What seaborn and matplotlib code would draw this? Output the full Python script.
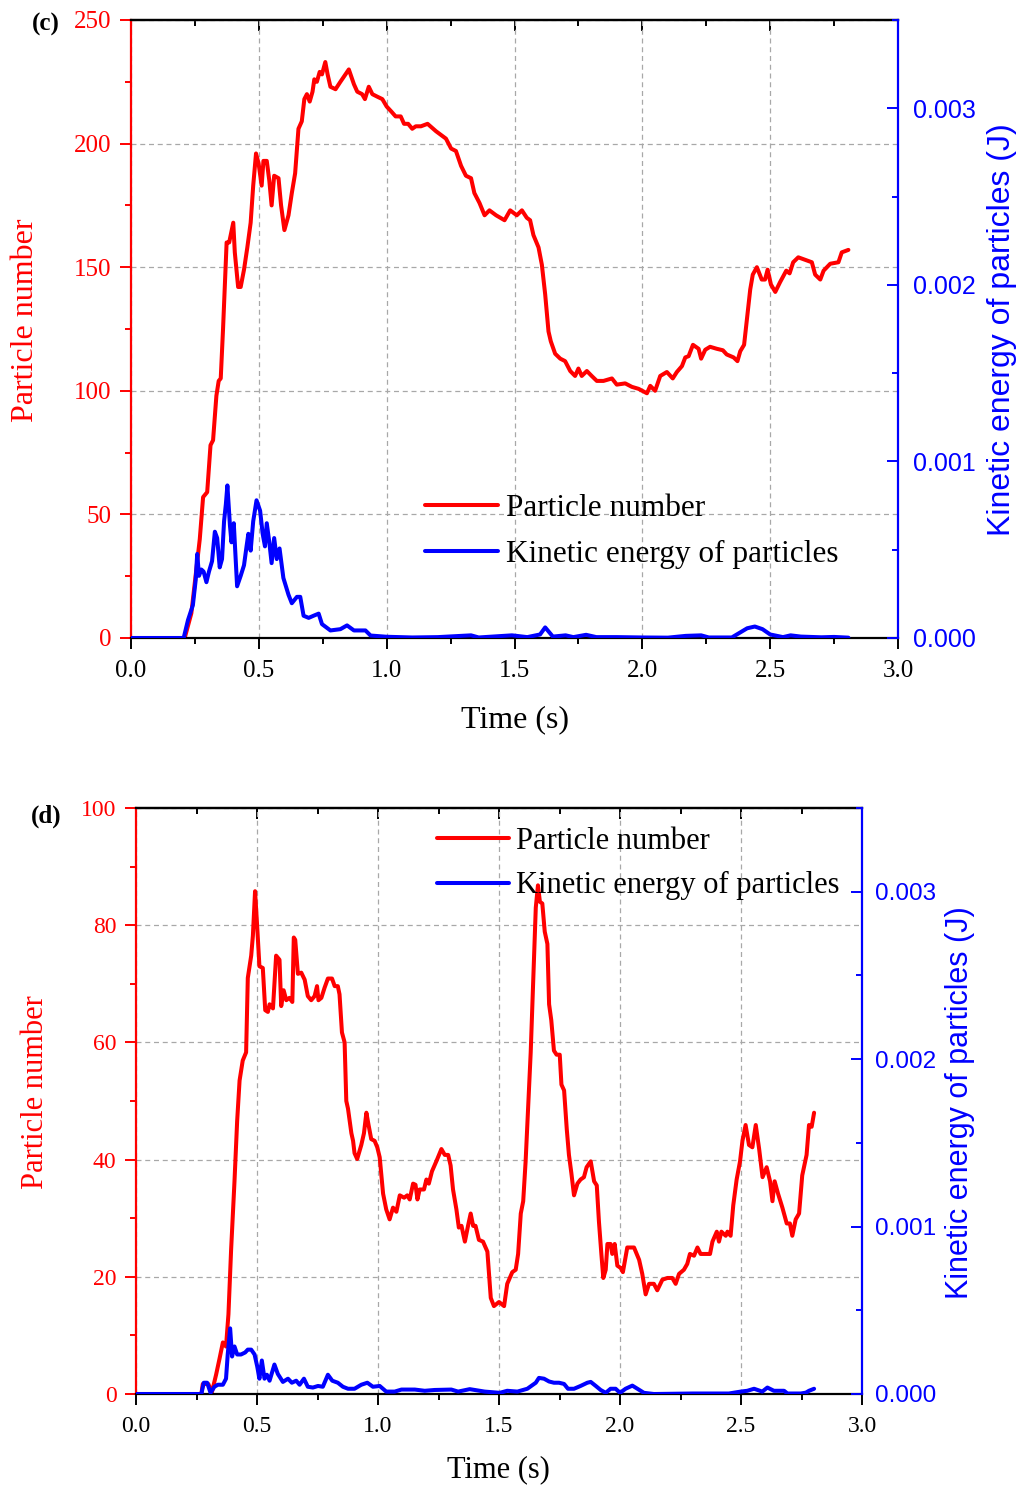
import numpy as np
import pandas as pd
import matplotlib
matplotlib.use("Agg")
import matplotlib.pyplot as plt
import seaborn as sns
from matplotlib.ticker import MultipleLocator

# ---------------- data: panel (c) ----------------
c_time_num = [0, 0.21, 0.236, 0.269, 0.282, 0.298, 0.311, 0.321, 0.334, 0.343,
              0.351, 0.36, 0.374, 0.384, 0.40, 0.406, 0.419, 0.429, 0.442, 0.455,
              0.468, 0.478, 0.489, 0.499, 0.511, 0.518, 0.531, 0.541, 0.55, 0.56,
              0.577, 0.587, 0.60, 0.616, 0.629, 0.642, 0.655, 0.668, 0.678, 0.688,
              0.699, 0.71, 0.717, 0.727, 0.738, 0.747, 0.76, 0.769, 0.78, 0.80,
              0.819, 0.852, 0.872, 0.885, 0.904, 0.915, 0.93, 0.944, 0.963, 0.983,
              1.0, 1.018, 1.035, 1.055, 1.068, 1.084, 1.10, 1.114, 1.134, 1.16,
              1.193, 1.232, 1.252, 1.271, 1.291, 1.31, 1.33, 1.343, 1.363, 1.383,
              1.402, 1.428, 1.461, 1.483, 1.509, 1.529, 1.548, 1.561, 1.574, 1.594,
              1.607, 1.62, 1.633, 1.642, 1.659, 1.679, 1.698, 1.718, 1.737, 1.75,
              1.763, 1.783, 1.802, 1.822, 1.848, 1.881, 1.90, 1.933, 1.959, 1.985,
              2.018, 2.031, 2.05, 2.07, 2.096, 2.119, 2.135, 2.155, 2.168, 2.181,
              2.198, 2.22, 2.23, 2.246, 2.265, 2.291, 2.315, 2.33, 2.357, 2.372,
              2.383, 2.398, 2.409, 2.422, 2.432, 2.448, 2.467, 2.48, 2.49, 2.503,
              2.52, 2.539, 2.563, 2.576, 2.59, 2.61, 2.637, 2.663, 2.676, 2.696,
              2.709, 2.735, 2.767, 2.78, 2.806]
c_particle_number = [0, 0, 10, 40, 57, 59, 78, 80, 98, 104,
                     105, 125, 160, 160, 168, 156, 142, 142, 149, 158,
                     168, 183, 196, 192, 183, 193, 193, 185, 175, 187,
                     186, 175, 165, 171, 180, 188, 206, 209, 218, 220,
                     217, 221, 226, 225, 229, 228, 233, 228, 223, 222,
                     225, 230, 224, 221, 220, 218, 223, 220, 219, 218,
                     215, 213, 211, 211, 208, 208, 206, 207, 207, 208,
                     205, 202, 198, 197, 191, 187, 186, 180, 176, 171,
                     173, 171, 169, 173, 171, 173, 170, 169, 163, 158,
                     151, 139, 124, 120, 115, 113, 112, 108, 106, 109,
                     106, 108, 106, 104, 104, 105, 102.5, 103, 101.6, 100.8,
                     99, 102, 100, 106, 107.6, 105, 107.6, 110, 113.5, 114,
                     118.6, 117, 113, 116.6, 117.8, 117, 116.4, 114.7, 113.5, 112,
                     116, 118.6, 129, 141, 147, 150, 145, 145, 149, 143,
                     140, 144, 148.6, 147.5, 152, 154, 153, 152, 147, 145,
                     148.6, 151.4, 152, 156, 157]

c_time_ke = [0, 0.206, 0.223, 0.242, 0.253, 0.259, 0.266, 0.275, 0.284, 0.295,
             0.305, 0.317, 0.328, 0.337, 0.347, 0.356, 0.364, 0.371, 0.377, 0.387,
             0.393, 0.402, 0.415, 0.429, 0.442, 0.452, 0.459, 0.468, 0.478, 0.491,
             0.505, 0.515, 0.524, 0.531, 0.541, 0.55, 0.56, 0.57, 0.581, 0.596,
             0.616, 0.629, 0.649, 0.662, 0.675, 0.695, 0.714, 0.734, 0.747, 0.78,
             0.819, 0.845, 0.872, 0.917, 0.937, 1.0, 1.1, 1.2, 1.33, 1.36,
             1.49, 1.55, 1.6, 1.62, 1.65, 1.7, 1.73, 1.78, 1.82, 1.9,
             2.0, 2.1, 2.17, 2.23, 2.26, 2.35, 2.41, 2.44, 2.47, 2.5,
             2.55, 2.58, 2.62, 2.7, 2.75, 2.806]
c_kinetic_energy = [0, 0, 0.000102, 0.000186, 0.000328, 0.000476, 0.000352, 0.000388, 0.000376, 0.000316,
                    0.000376, 0.000435, 0.000602, 0.000566, 0.0004, 0.000447, 0.000661, 0.000757, 0.000864, 0.000638,
                    0.000542, 0.00065, 0.000293, 0.000352, 0.000412, 0.000519, 0.00059, 0.000495, 0.000661, 0.00078,
                    0.000721, 0.00059, 0.000519, 0.00065, 0.000542, 0.000424, 0.000566, 0.000447, 0.000507, 0.00034,
                    0.000245, 0.000197, 0.000233, 0.000233, 0.000126, 0.000114, 0.000126, 0.000138, 0.0000785, 0.0000428,
                    0.00005, 0.0000714, 0.0000428, 0.0000428, 0.000014, 0.000007, 0.000003, 0.000005, 0.000015, 0.000003,
                    0.000015, 0.000005, 0.00002, 0.00006, 0.000008, 0.000015, 0.000005, 0.000018, 0.000005, 0.000005,
                    0.000003, 0.000002, 0.000012, 0.000015, 0.000003, 0.000003, 0.000055, 0.000065, 0.00005, 0.00002,
                    0.000005, 0.000015, 0.000008, 0.000004, 0.000006, 0.000002]

# ---------------- data: panel (d) ----------------
d_time_num = [0, 0.27, 0.276, 0.299, 0.313, 0.331, 0.345, 0.359, 0.372, 0.382,
              0.393, 0.407, 0.418, 0.428, 0.441, 0.455, 0.462, 0.476, 0.483, 0.492,
              0.501, 0.51, 0.524, 0.534, 0.545, 0.552, 0.566, 0.579, 0.593, 0.60,
              0.61, 0.621, 0.634, 0.646, 0.652, 0.658, 0.669, 0.683, 0.697, 0.71,
              0.724, 0.738, 0.748, 0.754, 0.766, 0.779, 0.793, 0.81, 0.821, 0.834,
              0.841, 0.851, 0.862, 0.869, 0.876, 0.89, 0.897, 0.903, 0.914, 0.931,
              0.942, 0.952, 0.961, 0.972, 0.986, 0.997, 1.007, 1.021, 1.034, 1.048,
              1.062, 1.076, 1.09, 1.108, 1.121, 1.131, 1.145, 1.155, 1.163, 1.172,
              1.19, 1.2, 1.21, 1.223, 1.241, 1.262, 1.276, 1.29, 1.3, 1.31,
              1.324, 1.334, 1.345, 1.359, 1.372, 1.383, 1.393, 1.403, 1.417, 1.434,
              1.452, 1.466, 1.479, 1.5, 1.521, 1.534, 1.555, 1.569, 1.579, 1.59,
              1.6, 1.61, 1.62, 1.631, 1.642, 1.652, 1.661, 1.669, 1.679, 1.689,
              1.7, 1.707, 1.716, 1.727, 1.738, 1.751, 1.758, 1.769, 1.78, 1.789,
              1.799, 1.81, 1.824, 1.837, 1.851, 1.862, 1.879, 1.893, 1.904, 1.913,
              1.923, 1.931, 1.941, 1.948, 1.961, 1.968, 1.978, 1.989, 2.003, 2.012,
              2.03, 2.058, 2.079, 2.092, 2.106, 2.12, 2.14, 2.154, 2.175, 2.196,
              2.216, 2.23, 2.244, 2.264, 2.278, 2.289, 2.306, 2.32, 2.333, 2.354,
              2.372, 2.382, 2.4, 2.409, 2.419, 2.437, 2.444, 2.457, 2.468, 2.482,
              2.496, 2.506, 2.519, 2.533, 2.547, 2.561, 2.575, 2.589, 2.606, 2.62,
              2.63, 2.639, 2.653, 2.671, 2.689, 2.702, 2.712, 2.726, 2.74, 2.753,
              2.771, 2.781, 2.792, 2.802]
d_particle_number = [0, 0, 1.7, 1.7, 0.2, 3.3, 6, 8.8, 8.1, 13.6,
                     24.6, 36.3, 46.6, 53.5, 56.9, 58.3, 71, 74.8, 78.2, 85.8,
                     79.6, 73, 72.7, 65.5, 65.2, 66.5, 65.8, 74.8, 74.1, 66.2,
                     68.9, 67.2, 67.6, 66.9, 77.9, 77.5, 71.7, 71.9, 70.7, 67.9,
                     67.2, 67.9, 69.6, 67.2, 67.6, 69.3, 70.9, 70.9, 69.6, 69.6,
                     68.2, 61.7, 60, 50, 48.7, 44.5, 43.2, 41.1, 40.1, 42.5,
                     44.5, 48, 45.9, 43.5, 43.2, 42.1, 40.4, 34.2, 31.5, 29.8,
                     31.8, 31.1, 33.9, 33.5, 33.9, 33.2, 35.9, 35.7, 33.2, 34.9,
                     34.9, 36.6, 35.9, 38, 39.7, 41.8, 40.8, 40.8, 39, 34.9,
                     31.5, 28.4, 28.7, 26, 28.7, 30.8, 28.7, 28.7, 26.3, 26,
                     24.3, 16.4, 15, 15.7, 15, 18.8, 20.8, 21.2, 23.9, 30.8,
                     32.9, 39.7, 48.7, 58.3, 71.3, 83, 86.8, 84, 83.7, 78.9,
                     76.8, 66.5, 63.8, 58.6, 57.9, 57.9, 52.8, 51.8, 45.2, 40.8,
                     37.7, 33.9, 35.9, 36.6, 37, 38.7, 39.7, 36.3, 35.6, 29.4,
                     23.9, 19.8, 21.2, 25.6, 25.6, 23.9, 25.6, 21.9, 21.5, 20.8,
                     25, 25, 22.9, 20.5, 17, 18.8, 18.8, 17.7, 19.5, 19.8,
                     19.8, 18.8, 20.5, 21.2, 22.2, 23.9, 23.6, 25, 23.9, 23.9,
                     23.9, 26, 27.7, 26, 27.7, 27, 27.7, 27, 32.2, 36.6,
                     39.7, 43.2, 45.9, 42.5, 42.1, 45.9, 41.8, 37, 38.7, 36.3,
                     32.9, 36.3, 34.2, 31.8, 29.1, 29.1, 27, 29.8, 30.8, 37.3,
                     40.8, 45.9, 45.6, 48]

d_time_ke = [0, 0.27, 0.28, 0.294, 0.308, 0.324, 0.338, 0.359, 0.372, 0.379,
             0.389, 0.397, 0.407, 0.418, 0.434, 0.451, 0.462, 0.476, 0.49, 0.501,
             0.51, 0.52, 0.531, 0.541, 0.552, 0.572, 0.586, 0.607, 0.628, 0.644,
             0.662, 0.676, 0.694, 0.71, 0.731, 0.752, 0.772, 0.793, 0.811, 0.834,
             0.855, 0.876, 0.903, 0.931, 0.956, 0.979, 1.007, 1.034, 1.069, 1.097,
             1.152, 1.193, 1.234, 1.303, 1.331, 1.379, 1.441, 1.503, 1.534, 1.576,
             1.617, 1.652, 1.665, 1.686, 1.707, 1.727, 1.748, 1.769, 1.785, 1.81,
             1.837, 1.865, 1.879, 1.9, 1.92, 1.941, 1.961, 1.982, 2.0, 2.023,
             2.051, 2.072, 2.099, 2.14, 2.3, 2.45, 2.499, 2.526, 2.554, 2.588,
             2.609, 2.636, 2.678, 2.692, 2.747, 2.768, 2.781, 2.802]
d_kinetic_energy = [0, 0, 0.0000673, 0.0000673, 0.000007, 0.0000433, 0.0000553, 0.0000553, 0.0000914, 0.000236,
                    0.000392, 0.000224, 0.000284, 0.000236, 0.000236, 0.000248, 0.000265, 0.000265, 0.000236, 0.000164,
                    0.0000914, 0.0002, 0.0000914, 0.000115, 0.0000794, 0.000176, 0.00012, 0.0000722, 0.0000914, 0.0000673,
                    0.0000794, 0.0000553, 0.0000914, 0.0000433, 0.0000385, 0.000048, 0.0000433, 0.000115, 0.0000794, 0.0000673,
                    0.0000433, 0.0000313, 0.0000313, 0.0000553, 0.0000673, 0.0000433, 0.000048, 0.0000144, 0.0000144, 0.0000265,
                    0.0000265, 0.0000192, 0.000024, 0.0000265, 0.0000144, 0.0000289, 0.0000144, 0.000007, 0.0000192, 0.0000144,
                    0.0000313, 0.0000673, 0.0000962, 0.0000914, 0.0000746, 0.0000673, 0.0000673, 0.00006, 0.0000313, 0.0000313,
                    0.000048, 0.0000673, 0.0000722, 0.000048, 0.000024, 0.000007, 0.0000313, 0.0000313, 0.000007, 0.0000313,
                    0.00005, 0.0000313, 0.000007, 0.0, 0.000003, 0.000003, 0.0000144, 0.0000192, 0.0000313, 0.0000144,
                    0.0000385, 0.0000192, 0.0000192, 0.000003, 0.000003, 0.000008, 0.0000192, 0.0000313]

x_ticks = [0.0, 0.5, 1.0, 1.5, 2.0, 2.5, 3.0]
ke_ticks = [0.000, 0.001, 0.002, 0.003]
c_num_ticks = [0, 50, 100, 150, 200, 250]
d_num_ticks = [0, 20, 40, 60, 80, 100]
legend_labels = ["Particle number", "Kinetic energy of particles"]

# ---------------- styling ----------------
sns.set_style("white")
plt.rcParams['font.family'] = ['Liberation Serif', 'DejaVu Serif']
plt.rcParams['axes.unicode_minus'] = False
plt.rcParams['text.color'] = 'black'
plt.rcParams['axes.labelcolor'] = 'black'
plt.rcParams['xtick.color'] = 'black'
plt.rcParams['ytick.color'] = 'black'

W, H = 1021, 1485
fig = plt.figure(figsize=(W / 100, H / 100), dpi=100)
fig.patch.set_facecolor('white')

RED = '#ff0000'
BLUE = '#0000ff'
SERIF = 'Liberation Serif'
SANS = 'Liberation Sans'
LW = 2.9


def fx(px):
    return px / W


def fy(py):
    return 1 - py / H


def panel(box, t_n, v_n, t_k, v_k, num_ticks, yminor, fs_tick, fs_rtick, fs_lab, fs_rlab,
          fs_leg, leg_xy, leg_sp, ylab_c, rlab_c, xlab_c, tag, tag_xy, rpad):
    l, t, r, b = box
    ax = fig.add_axes([fx(l), fy(b), fx(r) - fx(l), fy(t) - fy(b)])
    ax2 = ax.twinx()

    df_n = pd.DataFrame({"Time (s)": t_n, "Particle number": v_n})
    df_k = pd.DataFrame({"Time (s)": t_k, "KE": v_k})
    sns.lineplot(data=df_n, x="Time (s)", y="Particle number", ax=ax, color=RED,
                 linewidth=LW, estimator=None, sort=False, legend=False)
    sns.lineplot(data=df_k, x="Time (s)", y="KE", ax=ax2, color=BLUE,
                 linewidth=LW, estimator=None, sort=False, legend=False)
    ln_n = ax.lines[-1]
    ln_k = ax2.lines[-1]

    ax.set_xlim(0, 3.0)
    ax.set_ylim(num_ticks[0], num_ticks[-1])
    ax2.set_ylim(0, 0.0035)

    # grid
    ax.set_axisbelow(True)
    ax.grid(True, which='major', axis='both', color='#a8a8a8',
            linestyle=(0, (4, 3)), linewidth=0.9)

    # x axis
    ax.set_xticks(x_ticks, labels=[f"{v:.1f}" for v in x_ticks], fontfamily=SERIF)
    ax.xaxis.set_minor_locator(MultipleLocator(0.25))
    ax.tick_params(axis='x', which='major', direction='out', length=8, width=1.4,
                   labelsize=fs_tick, pad=8, colors='black', bottom=True, top=False)
    ax.tick_params(axis='x', which='minor', direction='out', length=4.5, width=1.4,
                   bottom=True, top=False, colors='black')

    # top ticks (inward)
    sec = ax.secondary_xaxis('top')
    sec.set_xticks(x_ticks)
    sec.xaxis.set_minor_locator(MultipleLocator(0.25))
    sec.tick_params(axis='x', which='major', direction='in', length=8, width=1.4,
                    labeltop=False, colors='black')
    sec.tick_params(axis='x', which='minor', direction='in', length=4.5, width=1.4,
                    colors='black')
    sec.spines['top'].set_linewidth(1.6)
    sec.spines['top'].set_color('black')

    # left y axis
    ax.set_yticks(num_ticks, labels=[str(v) for v in num_ticks], fontfamily=SERIF)
    ax.yaxis.set_minor_locator(MultipleLocator(yminor))
    ax.tick_params(axis='y', which='major', direction='out', length=8, width=1.4,
                   color=RED, labelcolor=RED, labelsize=fs_tick, pad=6)
    ax.tick_params(axis='y', which='minor', direction='out', length=4.5, width=1.4,
                   color=RED)

    # right y axis
    ax2.set_yticks(ke_ticks, labels=[f"{v:.3f}" for v in ke_ticks], fontfamily=SANS)
    ax2.yaxis.set_minor_locator(MultipleLocator(0.0005))
    ax2.tick_params(axis='y', which='major', direction='in', length=8, width=1.4,
                    color=BLUE, labelcolor=BLUE, labelsize=fs_rtick, pad=rpad)
    ax2.tick_params(axis='y', which='minor', direction='in', length=4.5, width=1.4,
                    color=BLUE)

    # spines
    for s in ['top', 'bottom']:
        ax.spines[s].set_color('black')
        ax.spines[s].set_linewidth(1.6)
    ax.spines['left'].set_color(RED)
    ax.spines['left'].set_linewidth(1.6)
    ax.spines['right'].set_visible(False)
    for s in ['left', 'top', 'bottom']:
        ax2.spines[s].set_visible(False)
    ax2.spines['right'].set_color(BLUE)
    ax2.spines['right'].set_linewidth(1.6)

    # labels
    ax.set_xlabel("Time (s)", fontsize=fs_lab, fontfamily=SERIF, color='black')
    ax.xaxis.set_label_coords((xlab_c[0] - l) / (r - l), (b - xlab_c[1]) / (b - t))
    ax.xaxis.label.set_verticalalignment('center')

    ax.set_ylabel("Particle number", fontsize=fs_lab, fontfamily=SERIF, color=RED)
    ax.yaxis.set_label_coords((ylab_c[0] - l) / (r - l), (b - ylab_c[1]) / (b - t))
    ax.yaxis.label.set_verticalalignment('center')

    ax2.set_ylabel("Kinetic energy of particles (J)", fontsize=fs_rlab,
                   fontfamily=SANS, color=BLUE, rotation=90)
    ax2.yaxis.set_label_coords((rlab_c[0] - l) / (r - l), (b - rlab_c[1]) / (b - t))
    ax2.yaxis.label.set_verticalalignment('center')

    # legend
    leg = ax2.legend([ln_n, ln_k], legend_labels, loc='upper left',
                     bbox_to_anchor=(fx(leg_xy[0]), fy(leg_xy[1])),
                     bbox_transform=fig.transFigure, frameon=False,
                     prop={'family': SERIF, 'size': fs_leg},
                     handlelength=2.35, handletextpad=0.25, labelspacing=leg_sp,
                     borderpad=0, borderaxespad=0)
    for ln in leg.get_lines():
        ln.set_linewidth(LW)
    for txt in leg.get_texts():
        txt.set_color('black')

    fig.text(fx(tag_xy[0]), fy(tag_xy[1]), tag, fontsize=18, fontweight='bold',
             fontfamily=SERIF, ha='center', va='center', color='black')
    return ax, ax2


panel((131, 20, 898, 638), c_time_num, c_particle_number, c_time_ke, c_kinetic_energy,
      c_num_ticks, 25, 18, 18, 23, 23, 22.5, (425, 494), 0.55, (25, 320), (1002, 330), (515, 720),
      "(c)", (46, 24), 11)

panel((136, 808, 862, 1394), d_time_num, d_particle_number, d_time_ke, d_kinetic_energy,
      d_num_ticks, 10, 17, 17.5, 22, 22, 22, (437, 827), 0.5, (35, 1092), (960, 1103), (498, 1470),
      "(d)", (46, 816), 9)

fig.savefig("out.png", dpi=100, facecolor='white')
